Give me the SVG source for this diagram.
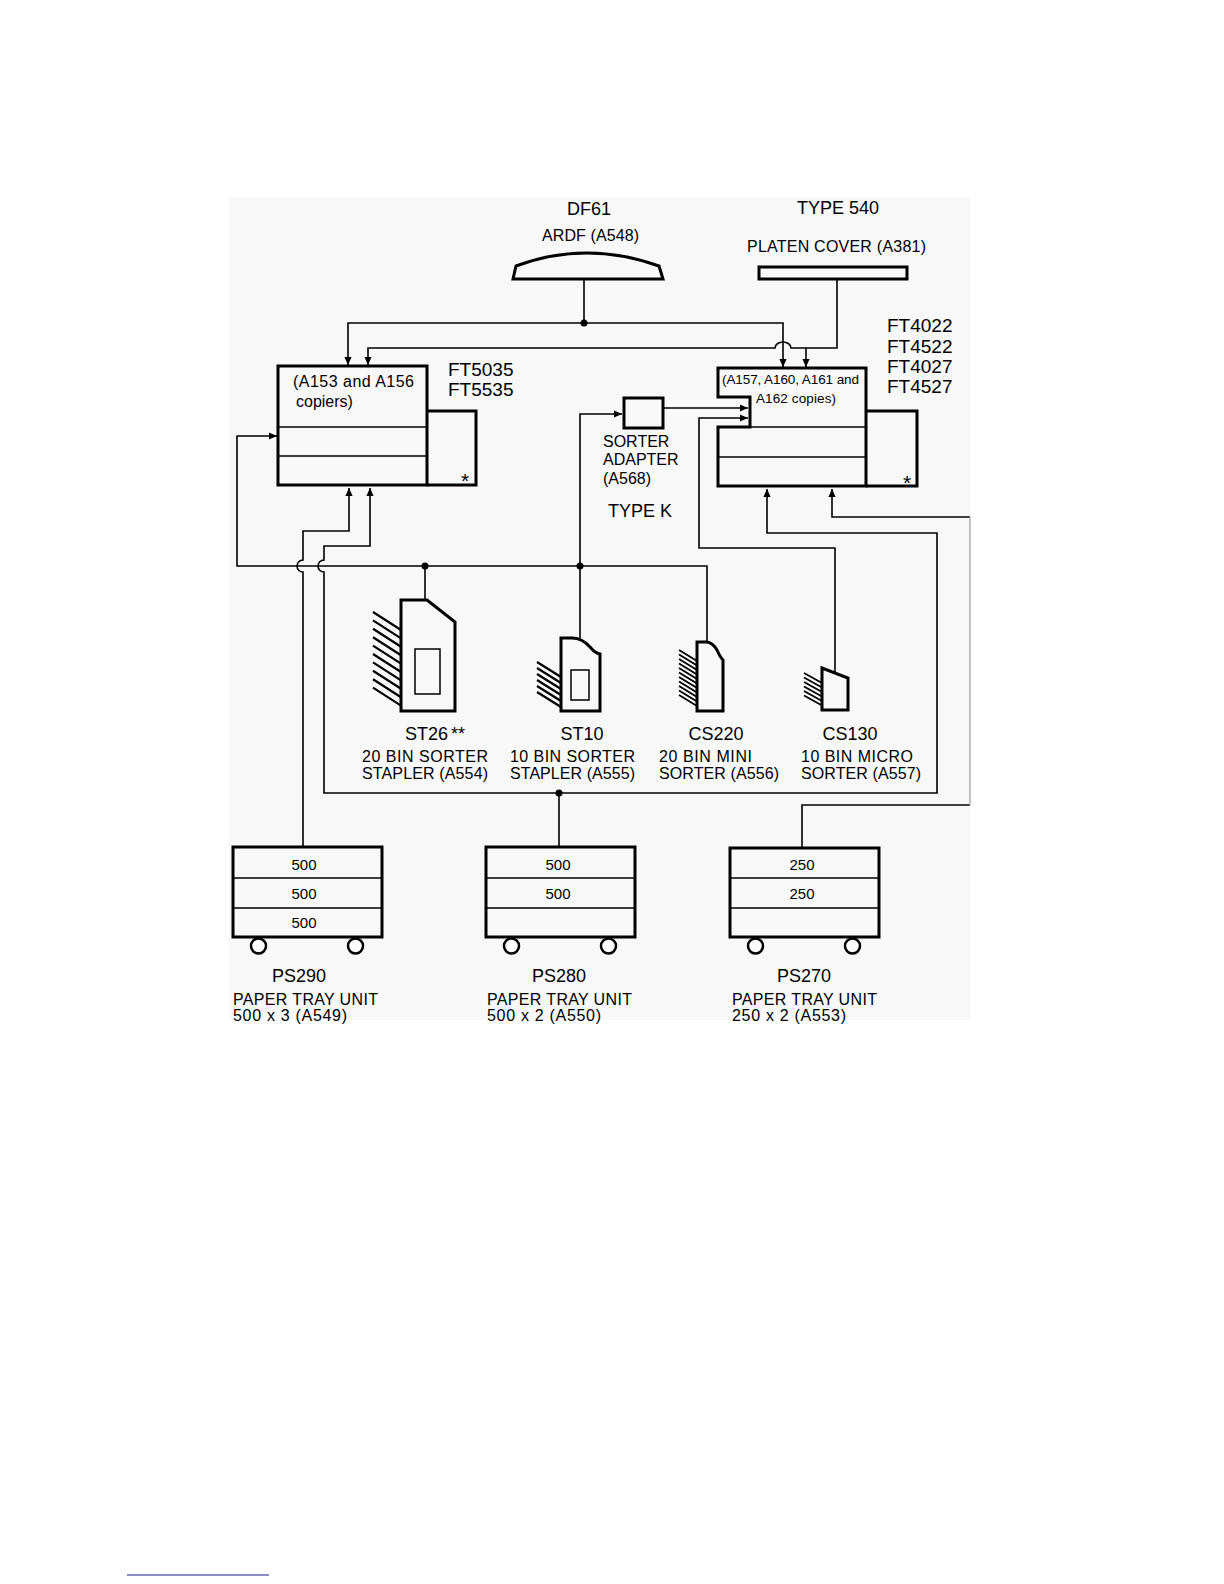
<svg xmlns="http://www.w3.org/2000/svg" width="1224" height="1584" viewBox="0 0 1224 1584">
<defs>
<marker id="ah" viewBox="0 0 10 10" refX="10" refY="5" markerWidth="9" markerHeight="8" markerUnits="userSpaceOnUse" orient="auto"><path d="M0,0.5 L10,5 L0,9.5 Z" fill="#000"/></marker>
</defs>
<style>
text{font-family:"Liberation Sans",Arial,sans-serif;fill:#000}
.t18{font-size:18px}
.t19{font-size:19px}
.t16{font-size:16px}
.t15{font-size:15px}
.t14{font-size:13.5px}
.star{font-size:21px}
.box{fill:none;stroke:#000;stroke-width:3}
.thin{fill:none;stroke:#000;stroke-width:1.5}
.con{fill:none;stroke:#000;stroke-width:1.6}
.arr{fill:none;stroke:#000;stroke-width:1.6;marker-end:url(#ah)}
.hat{stroke:#000;stroke-width:2.2}
.dot{fill:#000}
.whl{fill:#fff;stroke:#000;stroke-width:2.5}
</style>
<rect width="1224" height="1584" fill="#fff"/>
<rect x="229" y="197" width="741" height="823" fill="#f8f8f8"/>

<g id="connectors">
<path class="con" d="M584,279 V323"/>
<path class="arr" d="M584,323 H348 V365"/>
<path class="arr" d="M584,323 H783 V367"/>
<path class="arr" d="M837,279 V348 H806 V367"/>
<path class="arr" d="M806,348 H791 A8,6 0 0 0 775,348 H368 V365"/>
<path class="arr" d="M580,566 H237 V436 H277"/>
<path class="con" d="M580,566 H707 V643"/>
<path class="con" d="M425,566 V600"/>
<path class="arr" d="M580,639 V414 H622"/>
<path class="arr" d="M663,408 H748"/>
<path class="arr" d="M835,674 V548 H699 V418 H748"/>
<path class="arr" d="M303,847 V572 A6,6 0 0 1 303,560 V531 H349 V488"/>
<path class="con" d="M559,847 V793"/>
<path class="arr" d="M559,793 H324 V572 A6,6 0 0 1 324,560 V546 H370 V488"/>
<path class="arr" d="M559,793 H937 V533 H767 V489"/>
<path class="con" d="M802,848 V805 H970"/>
<path class="arr" d="M970,517 H832 V489"/>
<path d="M970,517 V805" fill="none" stroke="#aaa" stroke-width="1.4"/>
<circle class="dot" cx="584" cy="323" r="3.5"/>
<circle class="dot" cx="425" cy="566" r="3.5"/>
<circle class="dot" cx="580" cy="566" r="3.5"/>
<circle class="dot" cx="559" cy="793" r="3.5"/>
</g>

<g id="ardf">
<path class="box" d="M513,279 L516,266 Q586,240 659,266 L663,279 Z" fill="#fff"/>
<text class="t18" x="589" y="215" text-anchor="middle">DF61</text>
<text class="t16" x="542" y="241" textLength="97" lengthAdjust="spacing">ARDF  (A548)</text>
</g>

<g id="platen">
<rect class="box" x="759" y="267" width="148" height="12" fill="#fff"/>
<text class="t18" x="838" y="214" text-anchor="middle">TYPE 540</text>
<text class="t16" x="747" y="252" textLength="179" lengthAdjust="spacing">PLATEN  COVER  (A381)</text>
</g>

<g id="copier-left">
<rect class="box" x="278" y="366" width="149" height="119"/>
<path class="thin" d="M278,427 H427 M278,456 H427"/>
<path class="box" d="M427,411 H476 V485 H427"/>
<text class="t16" x="293" y="387" textLength="121" lengthAdjust="spacing">(A153  and  A156</text>
<text class="t16" x="296" y="407">copiers)</text>
<text class="star" x="465" y="488" text-anchor="middle">*</text>
<text class="t19" x="448" y="376">FT5035</text>
<text class="t19" x="448" y="396">FT5535</text>
</g>

<g id="copier-right">
<path class="box" d="M718,368 H866 V486 H718 V427 H750 V397 H718 Z"/>
<path class="thin" d="M750,427 H866 M718,457 H866"/>
<path class="box" d="M866,411 H917 V486 H866"/>
<text class="t14" x="722" y="384" textLength="137" lengthAdjust="spacing">(A157, A160, A161 and</text>
<text class="t14" x="756" y="403" textLength="80" lengthAdjust="spacing">A162 copies)</text>
<text class="star" x="907" y="490" text-anchor="middle">*</text>
<text class="t19" x="887" y="332">FT4022</text>
<text class="t19" x="887" y="352.5">FT4522</text>
<text class="t19" x="887" y="373">FT4027</text>
<text class="t19" x="887" y="393">FT4527</text>
</g>

<g id="sorter-adapter">
<rect class="box" x="624" y="398" width="39" height="30" fill="#fff"/>
<text class="t16" x="603" y="447">SORTER</text>
<text class="t16" x="603" y="465">ADAPTER</text>
<text class="t16" x="603" y="484">(A568)</text>
<text class="t18" x="608" y="517">TYPE K</text>
</g>

<g id="st26">
<path class="box" d="M401,711 V600 H427 L455,622 V711 Z" fill="#fff"/>
<rect class="thin" x="415" y="649" width="25" height="45"/>
<path class="hat" d="M373,612 L401,630 M373,620.4 L401,638.4 M373,628.8 L401,646.8 M373,637.2 L401,655.2 M373,645.6 L401,663.6 M373,654 L401,672 M373,662.4 L401,680.4 M373,670.8 L401,688.8 M373,679.2 L401,697.2 M373,687.6 L401,705.6"/>
<text class="t18" x="405" y="740">ST26<tspan dx="3">**</tspan></text>
<text class="t16" x="362" y="762" textLength="126" lengthAdjust="spacing">20  BIN  SORTER</text>
<text class="t16" x="362" y="779" textLength="126" lengthAdjust="spacing">STAPLER  (A554)</text>
</g>

<g id="st10">
<path class="box" d="M561,711 V638 H572 Q582,638 590,647 Q595,653 600,654 V711 Z" fill="#fff"/>
<rect class="thin" x="571" y="670" width="18" height="30"/>
<path class="hat" d="M537,662 L561,677 M537,668 L561,683 M537,674 L561,689 M537,680 L561,695 M537,686 L561,701 M537,692 L561,707"/>
<text class="t18" x="582" y="740" text-anchor="middle">ST10</text>
<text class="t16" x="510" y="762" textLength="125" lengthAdjust="spacing">10  BIN  SORTER</text>
<text class="t16" x="510" y="779" textLength="125" lengthAdjust="spacing">STAPLER  (A555)</text>
</g>

<g id="cs220">
<path class="box" d="M697,711 V642 H707 Q713,643 717,650 Q720,657 723,660 V711 Z" fill="#fff"/>
<path class="hat" style="stroke-width:1.8" d="M679,650 L697,661 M679,654.5 L697,665.5 M679,659 L697,670 M679,663.5 L697,674.5 M679,668 L697,679 M679,672.5 L697,683.5 M679,677 L697,688 M679,681.5 L697,692.5 M679,686 L697,697 M679,690.5 L697,701.5 M679,695 L697,706"/>
<text class="t18" x="716" y="740" text-anchor="middle">CS220</text>
<text class="t16" x="659" y="762" textLength="93" lengthAdjust="spacing">20  BIN  MINI</text>
<text class="t16" x="659" y="779" textLength="120" lengthAdjust="spacing">SORTER  (A556)</text>
</g>

<g id="cs130">
<path class="box" d="M822,710 V668 L848,678 V710 Z" fill="#fff"/>
<path class="hat" style="stroke-width:1.8" d="M804,673 L822,683 M804,677.5 L822,687.5 M804,682 L822,692 M804,686.5 L822,696.5 M804,691 L822,701 M804,695.5 L822,705.5"/>
<text class="t18" x="850" y="740" text-anchor="middle">CS130</text>
<text class="t16" x="801" y="762" textLength="112" lengthAdjust="spacing">10  BIN  MICRO</text>
<text class="t16" x="801" y="779" textLength="120" lengthAdjust="spacing">SORTER  (A557)</text>
</g>

<g id="ps290">
<rect class="box" x="233" y="847" width="149" height="90" fill="#fff"/>
<path class="thin" d="M233,878 H382 M233,908 H382"/>
<circle class="whl" cx="258.5" cy="946" r="7.5"/>
<circle class="whl" cx="355.5" cy="946" r="7.5"/>
<text class="t15" x="304" y="870" text-anchor="middle">500</text>
<text class="t15" x="304" y="899" text-anchor="middle">500</text>
<text class="t15" x="304" y="928" text-anchor="middle">500</text>
<text class="t18" x="299" y="982" text-anchor="middle">PS290</text>
<text class="t16" x="233" y="1005" textLength="145" lengthAdjust="spacing">PAPER  TRAY  UNIT</text>
<text class="t16" x="233" y="1021" textLength="114" lengthAdjust="spacing">500  x  3  (A549)</text>
</g>

<g id="ps280">
<rect class="box" x="486" y="847" width="149" height="90" fill="#fff"/>
<path class="thin" d="M486,878 H635 M486,908 H635"/>
<circle class="whl" cx="511.5" cy="946" r="7.5"/>
<circle class="whl" cx="608.5" cy="946" r="7.5"/>
<text class="t15" x="558" y="870" text-anchor="middle">500</text>
<text class="t15" x="558" y="899" text-anchor="middle">500</text>
<text class="t18" x="559" y="982" text-anchor="middle">PS280</text>
<text class="t16" x="487" y="1005" textLength="145" lengthAdjust="spacing">PAPER  TRAY  UNIT</text>
<text class="t16" x="487" y="1021" textLength="114" lengthAdjust="spacing">500  x  2  (A550)</text>
</g>

<g id="ps270">
<rect class="box" x="730" y="848" width="149" height="89" fill="#fff"/>
<path class="thin" d="M730,878 H879 M730,908 H879"/>
<circle class="whl" cx="755.5" cy="946" r="7.5"/>
<circle class="whl" cx="852.5" cy="946" r="7.5"/>
<text class="t15" x="802" y="870" text-anchor="middle">250</text>
<text class="t15" x="802" y="899" text-anchor="middle">250</text>
<text class="t18" x="804" y="982" text-anchor="middle">PS270</text>
<text class="t16" x="732" y="1005" textLength="145" lengthAdjust="spacing">PAPER  TRAY  UNIT</text>
<text class="t16" x="732" y="1021" textLength="114" lengthAdjust="spacing">250  x  2  (A553)</text>
</g>

<path d="M127,1575 H269" stroke="#1a1a99" stroke-width="1.2"/>
</svg>
